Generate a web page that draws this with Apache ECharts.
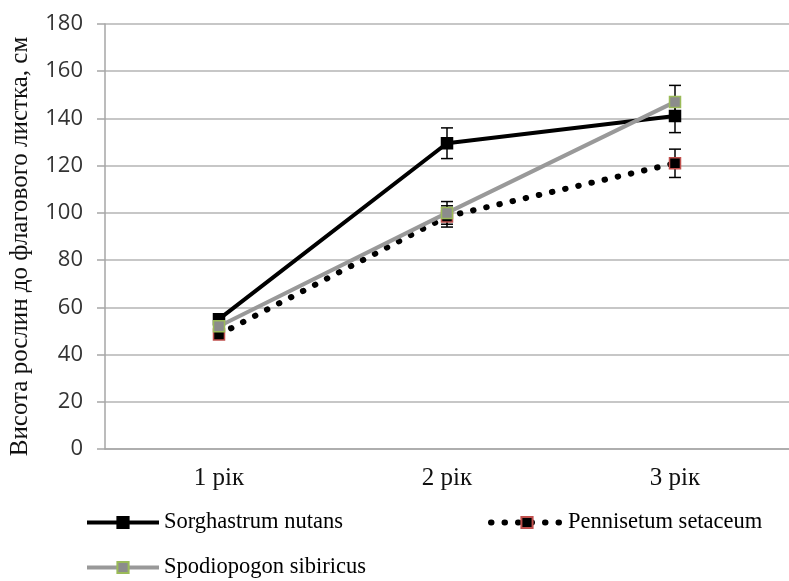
<!DOCTYPE html>
<html>
<head>
<meta charset="utf-8">
<script src="https://cdn.jsdelivr.net/npm/echarts@6/dist/echarts.min.js"></script>
<style>
  html, body { margin: 0; padding: 0; background: #fff; }
  #chart { width: 789px; height: 581px; }
</style>
</head>
<body>
<div id="chart"></div>
<script>
// categories and values
const years = ["1 рік", "2 рік", "3 рік"];
const sorghastrum = [55, 129.5, 141];
const sorghastrumErr = [2, 6.5, 7];
const pennisetum = [48.5, 98.5, 121];
const pennisetumErr = [2, 4.5, 6];
const spodiopogon = [52, 100, 147];
const spodiopogonErr = [2, 4.8, 7];
const yTicks = [0, 20, 40, 60, 80, 100, 120, 140, 160, 180];

const serif = "'Liberation Serif', 'Times New Roman', serif";
const dotted = [0.5, 13];

function errData(vals, errs) {
  return vals.map((v, i) => [i, v - errs[i], v + errs[i]]);
}

function renderErr(params, api) {
  const x = api.value(0);
  const lo = api.coord([x, api.value(1)]);
  const hi = api.coord([x, api.value(2)]);
  const w = 6;
  const st = { stroke: "#000", lineWidth: 1.5 };
  return {
    type: "group",
    children: [
      { type: "line", shape: { x1: lo[0], y1: lo[1], x2: hi[0], y2: hi[1] }, style: st },
      { type: "line", shape: { x1: lo[0] - w, y1: lo[1], x2: lo[0] + w, y2: lo[1] }, style: st },
      { type: "line", shape: { x1: hi[0] - w, y1: hi[1], x2: hi[0] + w, y2: hi[1] }, style: st }
    ]
  };
}

const myChart = echarts.init(document.getElementById("chart"));

const legendBase = {
  orient: "horizontal",
  itemWidth: 72,
  itemHeight: 14,
  textStyle: { fontFamily: serif, fontSize: 22.5, color: "#000" }
};

const options = {
  animation: false,
  grid: { left: 104, top: 24, width: 690, height: 425 },
  legend: [
    Object.assign({}, legendBase, {
      left: 80,
      top: 506,
      data: [{ name: "Sorghastrum nutans", lineStyle: { width: 4 } }]
    }),
    Object.assign({}, legendBase, {
      left: 483,
      top: 506,
      data: [
        {
          name: "Pennisetum setaceum",
          lineStyle: { width: 6, type: dotted, cap: "round" }
        }
      ]
    }),
    Object.assign({}, legendBase, {
      left: 80,
      top: 551,
      data: [{ name: "Spodiopogon sibiricus", lineStyle: { width: 4 } }]
    })
  ],
  xAxis: {
    type: "category",
    data: years,
    boundaryGap: true,
    axisLine: { lineStyle: { color: "#a6a6a6", width: 1.5 } },
    axisTick: { show: false },
    axisLabel: { fontFamily: serif, fontSize: 25, color: "#111", margin: 17 }
  },
  yAxis: {
    type: "value",
    min: 0,
    max: 180,
    interval: 20,
    name: "Висота рослин до флагового листка, см",
    nameLocation: "middle",
    nameGap: 72,
    nameTextStyle: {
      fontFamily: serif,
      fontSize: 25,
      color: "#111",
      padding: [0, 20, 0, 0]
    },
    axisLine: { show: true, lineStyle: { color: "#a6a6a6", width: 1.5 } },
    axisTick: { show: true, length: 8, lineStyle: { color: "#a6a6a6", width: 1.5 } },
    splitLine: { lineStyle: { color: "#b4b4b4", width: 1.5 } },
    axisLabel: {
      fontFamily: "'Open Sans', sans-serif",
      fontSize: 22,
      color: "#333",
      margin: 22,
      formatter: (v) => (yTicks.includes(v) ? String(v) : "")
    }
  },
  series: [
    {
      type: "custom",
      renderItem: renderErr,
      data: errData(sorghastrum, sorghastrumErr),
      z: 1,
      silent: true
    },
    {
      type: "custom",
      renderItem: renderErr,
      data: errData(pennisetum, pennisetumErr),
      z: 1,
      silent: true
    },
    {
      type: "custom",
      renderItem: renderErr,
      data: errData(spodiopogon, spodiopogonErr),
      z: 1,
      silent: true
    },
    {
      name: "Sorghastrum nutans",
      type: "line",
      data: sorghastrum,
      z: 3,
      symbol: "rect",
      symbolSize: 11,
      lineStyle: { color: "#000", width: 4 },
      itemStyle: { color: "#000", borderColor: "#000", borderWidth: 1.5 }
    },
    {
      name: "Pennisetum setaceum",
      type: "line",
      data: pennisetum,
      z: 4,
      symbol: "rect",
      symbolSize: 11,
      lineStyle: { color: "#000", width: 6, type: dotted, cap: "round" },
      itemStyle: { color: "#000", borderColor: "#c0504d", borderWidth: 1.5 }
    },
    {
      name: "Spodiopogon sibiricus",
      type: "line",
      data: spodiopogon,
      z: 5,
      symbol: "rect",
      symbolSize: 11,
      lineStyle: { color: "#999999", width: 4 },
      itemStyle: { color: "#8c8c8c", borderColor: "#9bbb59", borderWidth: 1.5 }
    }
  ]
};

myChart.setOption(options);
window.addEventListener("resize", function () {
  myChart.resize();
});
</script>
</body>
</html>
